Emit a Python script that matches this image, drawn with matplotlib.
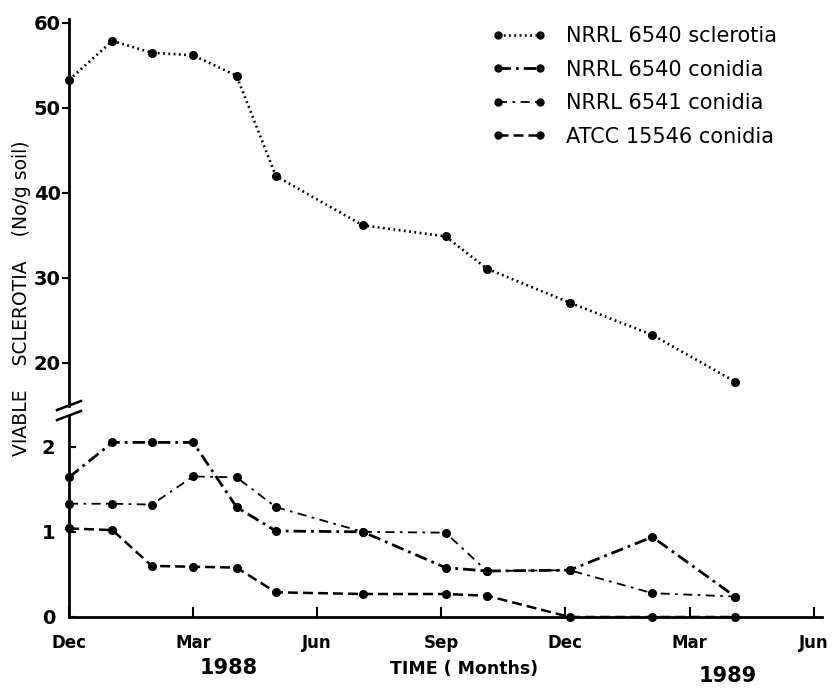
import matplotlib
matplotlib.use("Agg")
import matplotlib.pyplot as plt
from matplotlib.lines import Line2D

W, H = 838, 692

# sampling dates, months after Dec 1987
months = [0, 1.05, 2.0, 3.0, 4.05, 5.0, 7.1, 9.1, 10.1, 12.1, 14.1, 16.1]

# viable counts (No/g soil)
sclerotia_6540 = [53.3, 57.9, 56.5, 56.2, 53.8, 42.0, 36.2, 34.9, 31.1, 27.1, 23.3, 17.8]
conidia_6540 = [1.64, 2.05, 2.05, 2.05, 1.29, 1.01, 1.0, 0.58, 0.54, 0.55, 0.94, 0.24]
conidia_6541 = [1.33, 1.33, 1.32, 1.65, 1.64, 1.29, 1.0, 0.99, 0.54, 0.55, 0.28, 0.24]
conidia_15546 = [1.04, 1.02, 0.60, 0.59, 0.58, 0.29, 0.27, 0.27, 0.25, 0.0, 0.0, 0.0]

tick_months = [0, 3, 6, 9, 12, 15, 18]
tick_names = ["Dec", "Mar", "Jun", "Sep", "Dec", "Mar", "Jun"]
top_ticks = [20, 30, 40, 50, 60]
bottom_ticks = [0, 1, 2]


def rect(x0, y0, x1, y1):
    # pixel box -> figure fraction
    return [x0 / W, 1 - y1 / H, (x1 - x0) / W, (y1 - y0) / H]


def fx(x):
    return x / W


def fy(y):
    return 1 - y / H


fig = plt.figure(figsize=(W / 100, H / 100), dpi=100)
ax_top = fig.add_axes(rect(69, 19, 822, 406))
ax_bot = fig.add_axes(rect(69, 416, 822, 617))

styles = {
    "sclerotia": dict(ls=(0, (0.7, 1.3)), lw=1.9),
    "c6540": dict(ls=(0, (4.5, 1.8, 1.0, 1.8)), lw=2.0),
    "c6541": dict(ls=(0, (5.0, 3.0, 1.5, 3.0)), lw=1.3),
    "c15546": dict(ls=(0, (4.0, 2.0)), lw=1.8),
}
mk = dict(marker="o", ms=5.5, color="black", clip_on=False)

ax_top.plot(months, sclerotia_6540, **styles["sclerotia"], **mk)
ax_bot.plot(months, conidia_6540, **styles["c6540"], **mk)
ax_bot.plot(months, conidia_6541, **styles["c6541"], **mk)
ax_bot.plot(months, conidia_15546, **styles["c15546"], **mk)

for ax in (ax_top, ax_bot):
    ax.set_xlim(0, 18.2)
    for s in ("top", "right"):
        ax.spines[s].set_visible(False)
    ax.spines["left"].set_linewidth(2)

ax_top.spines["bottom"].set_visible(False)
ax_top.set_ylim(14.94, 60.47)
ax_top.set_yticks(top_ticks)
ax_top.set_xticks([])
ax_top.tick_params(axis="y", direction="out", length=5, width=1.5, pad=1,
                   labelsize=14)

ax_bot.spines["bottom"].set_linewidth(2)
ax_bot.set_ylim(0, 2.36)
ax_bot.set_yticks(bottom_ticks)
ax_bot.tick_params(axis="y", direction="in", length=5, width=1.5, pad=10,
                   labelsize=14)
ax_bot.set_xticks(tick_months)
ax_bot.set_xticklabels(tick_names)
ax_bot.tick_params(axis="x", direction="in", length=7, width=1.5, pad=12,
                   labelsize=12)

for lab in ax_top.get_yticklabels() + ax_bot.get_yticklabels() + ax_bot.get_xticklabels():
    lab.set_fontweight("bold")

# axis break marks
for y0 in (410, 420):
    fig.add_artist(Line2D([fx(57), fx(81)], [fy(y0), fy(y0 - 9)],
                          color="black", lw=1.8))

fig.text(fx(22), fy(298), "VIABLE    SCLEROTIA    (No/g soil)", rotation=90,
         ha="center", va="center", fontsize=13.5)
fig.text(fx(229), fy(668), "1988", ha="center", va="center",
         fontsize=15, fontweight="bold")
fig.text(fx(728), fy(676), "1989", ha="center", va="center",
         fontsize=15, fontweight="bold")
fig.text(fx(464), fy(669), "TIME ( Months)", ha="center", va="center",
         fontsize=12.5, fontweight="bold")

handles = [
    Line2D([], [], **styles["sclerotia"], marker="o", ms=5, color="black"),
    Line2D([], [], **styles["c6540"], marker="o", ms=5, color="black"),
    Line2D([], [], **styles["c6541"], marker="o", ms=5, color="black"),
    Line2D([], [], **styles["c15546"], marker="o", ms=5, color="black"),
]
labels = ["NRRL 6540 sclerotia", "NRRL 6540 conidia",
          "NRRL 6541 conidia", "ATCC 15546 conidia"]
fig.legend(handles, labels, loc="upper left",
           bbox_to_anchor=(fx(492), fy(26)), frameon=False, numpoints=2,
           fontsize=15, handlelength=2.6, handletextpad=0.95,
           labelspacing=0.65, borderpad=0, borderaxespad=0)

fig.savefig("out.png", dpi=100)
